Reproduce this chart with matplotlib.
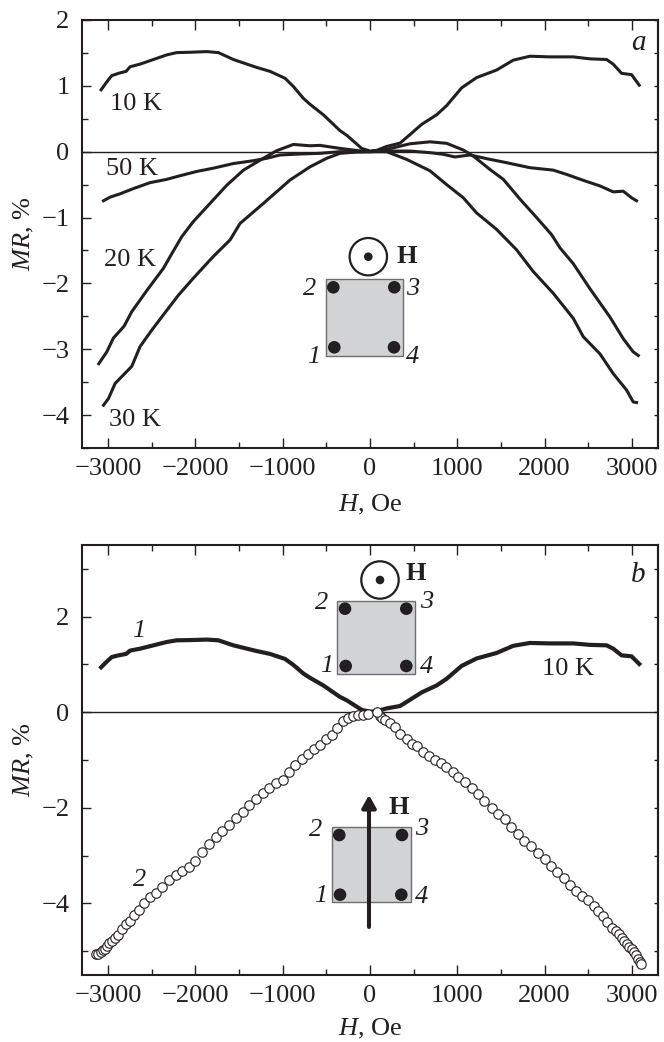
import matplotlib
matplotlib.use("Agg")
import matplotlib.pyplot as plt
from matplotlib.patches import Circle, Rectangle
from matplotlib.ticker import MultipleLocator

plt.rcParams['font.family'] = ['Liberation Serif', 'DejaVu Serif']
plt.rcParams['mathtext.fontset'] = 'custom'
plt.rcParams['mathtext.rm'] = 'Liberation Serif'
plt.rcParams['mathtext.it'] = 'Liberation Serif:italic'
plt.rcParams['mathtext.bf'] = 'Liberation Serif:bold'

# values
h_10k = [-3080, -3015, -2958, -2882, -2794, -2748, -2634, -2481, -2328, -2214, -2061, -1870, -1737, -1565, -1298,
         -1145, -973, -878, -763, -687, -534, -344, -267, -95, 0, 76, 191, 344, 458, 592, 763, 878, 1050, 1221,
         1450, 1641, 1832, 2061, 2328, 2519, 2710, 2786, 2882, 2996, 3084]
mr_10k = [0.94, 1.06, 1.155, 1.19, 1.22, 1.29, 1.33, 1.40, 1.47, 1.505, 1.51, 1.52, 1.505, 1.40, 1.28,
          1.22, 1.115, 0.99, 0.81, 0.72, 0.56, 0.32, 0.25, 0.05, 0.01, 0.02, 0.08, 0.13, 0.26, 0.415, 0.56, 0.70,
          0.97, 1.125, 1.24, 1.39, 1.45, 1.44, 1.44, 1.41, 1.40, 1.33, 1.19, 1.17, 1.01]

h_20k = [-3107, -3015, -2939, -2817, -2729, -2557, -2366, -2271, -2156, -2023, -1832, -1641, -1450, -1221, -1069,
         -878, -687, -573, -344, -100, 0, 191, 458, 687, 878, 1069, 1183, 1374, 1527, 1718, 1908, 2080, 2176,
         2328, 2519, 2748, 2901, 3015, 3073]
mr_20k = [-3.22, -3.04, -2.83, -2.65, -2.43, -2.11, -1.77, -1.55, -1.29, -1.06, -0.785, -0.51, -0.28, -0.10, 0.015,
          0.11, 0.09, 0.096, 0.05, 0.01, 0.0, 0.035, 0.12, 0.15, 0.127, 0.025, -0.066, -0.27, -0.42, -0.72, -1.0,
          -1.26, -1.46, -1.70, -2.08, -2.51, -2.84, -3.04, -3.095]

h_30k = [-3053, -2996, -2920, -2729, -2634, -2500, -2328, -2195, -2023, -1794, -1603, -1489, -1221, -916, -687,
         -496, -344, -150, 0, 191, 420, 687, 878, 1069, 1221, 1450, 1679, 1870, 2099, 2328, 2443, 2634, 2786,
         2939, 3015, 3053]
mr_30k = [-3.85, -3.75, -3.52, -3.26, -2.96, -2.71, -2.41, -2.18, -1.92, -1.59, -1.34, -1.09, -0.785, -0.43, -0.23,
          -0.10, -0.025, -0.005, 0.0, 0.0, -0.117, -0.29, -0.50, -0.70, -0.93, -1.18, -1.49, -1.82, -2.15, -2.53,
          -2.81, -3.07, -3.37, -3.62, -3.80, -3.81]

h_50k = [-3053, -2977, -2863, -2710, -2519, -2328, -2176, -1985, -1794, -1565, -1336, -1183, -1031, -802, -573,
         -344, 0, 153, 458, 687, 840, 973, 1145, 1336, 1565, 1832, 2099, 2252, 2443, 2634, 2786, 2901, 2996, 3053]
mr_50k = [-0.745, -0.69, -0.64, -0.56, -0.47, -0.42, -0.365, -0.30, -0.25, -0.18, -0.137, -0.10, -0.05, -0.035,
          -0.025, 0.0, 0.0, 0.01, 0.01, -0.015, -0.04, -0.08, -0.05, -0.106, -0.167, -0.243, -0.28, -0.345, -0.435,
          -0.52, -0.61, -0.60, -0.70, -0.745]

h_circ = [-3137, -3111, -3084, -3057, -3031, -3008, -2985, -2958, -2920, -2882, -2844, -2798, -2748, -2702, -2645,
          -2584, -2515, -2450, -2378, -2302, -2225, -2153, -2076, -2000, -1924, -1844, -1767, -1691, -1615, -1538,
          -1458, -1382, -1305, -1225, -1153, -1076, -1000, -931, -855, -782, -706, -641, -573, -504, -439, -382,
          -305, -248, -191, -134, -76, -19, 115, 134, 172, 229, 286, 344, 420, 477, 542, 611, 676, 744, 809, 870,
          947, 1011, 1088, 1164, 1240, 1309, 1393, 1469, 1546, 1618, 1691, 1767, 1844, 1924, 2004, 2073, 2145,
          2221, 2290, 2359, 2431, 2492, 2561, 2615, 2664, 2710, 2767, 2817, 2855, 2882, 2908, 2939, 2969, 3000,
          3023, 3046, 3073, 3092, 3107, 76]
mr_circ = [-5.07, -5.05, -5.02, -4.98, -4.95, -4.90, -4.84, -4.79, -4.73, -4.67, -4.54, -4.44, -4.36, -4.24, -4.13,
           -3.99, -3.87, -3.78, -3.66, -3.52, -3.41, -3.32, -3.23, -3.11, -2.93, -2.76, -2.62, -2.49, -2.35, -2.21,
           -2.08, -1.95, -1.81, -1.70, -1.59, -1.49, -1.41, -1.26, -1.10, -0.97, -0.87, -0.76, -0.69, -0.57, -0.47,
           -0.33, -0.19, -0.12, -0.07, -0.06, -0.05, -0.035, -0.08, -0.12, -0.17, -0.22, -0.31, -0.45, -0.57, -0.66,
           -0.71, -0.83, -0.92, -0.99, -1.06, -1.14, -1.26, -1.35, -1.46, -1.58, -1.72, -1.85, -2.01, -2.12, -2.24,
           -2.41, -2.54, -2.70, -2.81, -2.95, -3.08, -3.21, -3.34, -3.48, -3.61, -3.75, -3.85, -3.94, -4.06, -4.15,
           -4.26, -4.40, -4.52, -4.58, -4.65, -4.72, -4.79, -4.86, -4.91, -4.96, -5.02, -5.09, -5.16, -5.22, -5.26,
           0.0]

xticks = [-3000, -2000, -1000, 0, 1000, 2000, 3000]

INK = '#231f20'
W, H = 664, 1042


def make_axes(x0, x1, y_top, y_bot):
    return fig.add_axes([x0 / W, 1 - y_bot / H, (x1 - x0) / W, (y_bot - y_top) / H])


def style_axes(ax, ymajor, yminor):
    ax.set_xlim(-3299, 3299)
    ax.set_xticks(xticks)
    ax.xaxis.set_minor_locator(MultipleLocator(500))
    ax.yaxis.set_major_locator(MultipleLocator(ymajor))
    ax.yaxis.set_minor_locator(MultipleLocator(yminor))
    ax.tick_params(axis='x', which='both', direction='in', top=True, width=1.0, color=INK)
    ax.tick_params(axis='x', which='major', length=7.2, labelsize=19, pad=7, labelcolor=INK)
    ax.tick_params(axis='x', which='minor', length=4.3)
    ax.tick_params(axis='y', which='both', direction='in', right=False, width=1.0, color=INK)
    ax.tick_params(axis='y', which='major', length=6.5, labelsize=19, pad=9, labelcolor=INK)
    ax.tick_params(axis='y', which='minor', length=4.3)
    for s in ax.spines.values():
        s.set_linewidth(1.5)
        s.set_color(INK)
    # short ticks on the right side
    right = ax.secondary_yaxis('right')
    right.yaxis.set_major_locator(MultipleLocator(yminor))
    right.tick_params(axis='y', direction='in', length=3.2, width=1.0, color=INK, labelright=False)
    right.spines['right'].set_linewidth(1.5)
    right.spines['right'].set_color(INK)
    ax.axhline(0, color=INK, lw=1.0, zorder=1)
    ax.set_xlabel(r'$\mathit{H}$, Oe', fontsize=19, color=INK)
    ax.set_ylabel(r'$\mathit{MR}$, %', fontsize=19, color=INK)


def sample(square, dots, labels, r=6.3):
    x0, x1, y0, y1 = square
    over.add_patch(Rectangle((x0, y0), x1 - x0, y1 - y0, fc='#d1d3d4', ec='#6d6e71', lw=1.0))
    for d in dots:
        over.add_patch(Circle(d, r, fc=INK, ec='none', zorder=3))
    for txt, pos in zip(['1', '2', '3', '4'], labels):
        over.text(pos[0], pos[1], txt, fontsize=19, style='italic', ha='center', va='center', color=INK)


def field_out(c, hpos):
    over.add_patch(Circle(c, 18.7, fc='white', ec=INK, lw=1.6, zorder=3))
    over.add_patch(Circle(c, 4.3, fc=INK, ec='none', zorder=4))
    over.text(hpos[0], hpos[1], 'H', fontsize=19, weight='bold', ha='center', va='center', color=INK)


fig = plt.figure(figsize=(W / 100, H / 100), dpi=100)

# panel a
ax1 = make_axes(82, 658, 20, 448)
style_axes(ax1, 1, 0.5)
ax1.set_ylim(-4.5, 2)
ax1.plot(h_10k, mr_10k, color=INK, lw=2.2)
ax1.plot(h_20k, mr_20k, color=INK, lw=2.2)
ax1.plot(h_30k, mr_30k, color=INK, lw=2.2)
ax1.plot(h_50k, mr_50k, color=INK, lw=2.2)
ax1.xaxis.set_label_coords(0.5, -0.105)
ax1.yaxis.set_label_coords(-0.08, 0.50)

# panel b
ax2 = make_axes(82, 658, 545, 975)
style_axes(ax2, 2, 1)
ax2.set_ylim(-5.5, 3.5)
ax2.plot(h_10k, mr_10k, color=INK, lw=3.0)
ax2.plot(h_circ, mr_circ, ls='none', marker='o', ms=6.8, mfc='white', mec=INK, mew=0.8)
ax2.xaxis.set_label_coords(0.5, -0.098)
ax2.yaxis.set_label_coords(-0.08, 0.50)

# annotations and sketches are placed in pixel coordinates of the page
over = fig.add_axes([0, 0, 1, 1])
over.set_xlim(0, W)
over.set_ylim(H, 0)
over.axis('off')
over.patch.set_alpha(0)

for txt, x, y in [('10 K', 110, 104), ('50 K', 106, 169), ('20 K', 104, 260), ('30 K', 109, 420), ('10 K', 542, 669)]:
    over.text(x, y, txt, fontsize=19, ha='left', va='center', color=INK)
over.text(638, 43, 'a', fontsize=21, style='italic', ha='center', va='center', color=INK)
over.text(638, 575, 'b', fontsize=21, style='italic', ha='center', va='center', color=INK)
over.text(139, 631, '1', fontsize=19, style='italic', ha='center', va='center', color=INK)
over.text(140, 880, '2', fontsize=19, style='italic', ha='center', va='center', color=INK)

sample((326, 402.7, 278.7, 355.7),
       [(333.3, 287.3), (394.3, 287.3), (334.3, 347.3), (394, 347.3)],
       [(314, 357), (310, 289), (413, 289), (413, 357)])
field_out((368.3, 256.7), (406.7, 256.7))

sample((337.3, 415, 600.7, 674),
       [(345, 608.7), (406.3, 608.7), (345.7, 666), (406.3, 666)],
       [(326.7, 666), (321.7, 602.7), (426.7, 601.7), (426.7, 667.3)])
field_out((380, 580), (415.7, 573.3))

sample((331.7, 410.7, 826.7, 902.3),
       [(339.3, 835), (402, 835), (340, 894.7), (401.3, 894.7)],
       [(320.7, 896), (316, 830), (421.7, 829.3), (421.7, 896.7)])
over.annotate('', xy=(369, 795), xytext=(369, 927), zorder=5,
              arrowprops=dict(arrowstyle='-|>,head_length=0.75,head_width=0.42', color=INK, lw=2.9,
                              shrinkA=0, shrinkB=0))
over.text(399, 807.3, 'H', fontsize=19, weight='bold', ha='center', va='center', color=INK)

fig.savefig('out.png', dpi=100)
